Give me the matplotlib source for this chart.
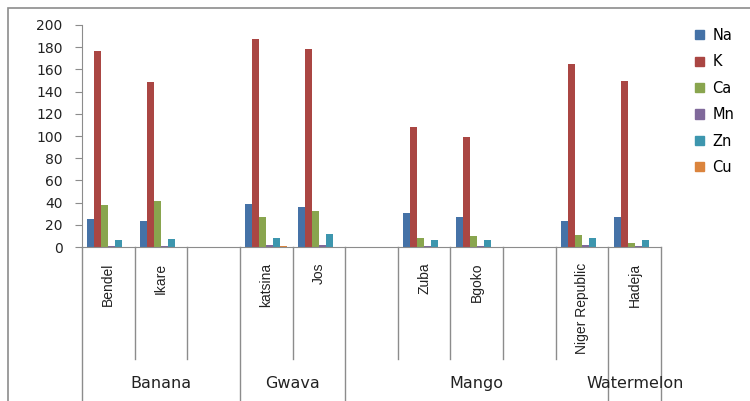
import numpy as np
import matplotlib.pyplot as plt
from matplotlib.patches import Patch, Rectangle

nan = np.nan

# Data
categories = ['Bendel', 'Ikare', '', 'katsina', 'Jos', '', 'Zuba', 'Bgoko', '', 'Niger Republic', 'Hadeja']
Na = [25, 23, nan, 39, 36, nan, 31, 27, nan, 23, 27]
K = [177, 149, nan, 187, 178, nan, 108, 99, nan, 165, 150]
Ca = [38, 41, nan, 27, 32, nan, 8, 10, nan, 10.5, 4]
Mn = [1, 0.5, nan, 1.5, 1.5, nan, 0.5, 0.5, nan, 1.5, 0.5]
Zn = [6, 7, nan, 8.5, 11.5, nan, 6, 6, nan, 8.5, 6]
Cu = [0, 0, nan, 0.7, 0, nan, 0, 0, nan, 0, 0]

groups = ['Banana', 'Gwava', 'Mango', 'Watermelon']
group_start = [0, 3, 5, 10]
group_end = [3, 5, 10, 11]

series = {'Na': Na, 'K': K, 'Ca': Ca, 'Mn': Mn, 'Zn': Zn, 'Cu': Cu}
colors = ['#4572A7', '#AA4643', '#89A54E', '#80699B', '#3D96AE', '#DB843D']

fig = plt.figure(figsize=(7.5, 4.01), dpi=100)
ax = fig.add_axes([82 / 750, 1 - 247 / 401, (661 - 82) / 750, 222 / 401])

# outer chart frame (only top and left edges visible)
fig.patches.append(Rectangle((7.5 / 750, -0.1), 1.2, 1 - 8 / 401 + 0.1, transform=fig.transFigure,
                             fill=False, edgecolor='#8c8c8c', lw=1.2))

x = np.arange(len(categories))
bw = 7 / 52.6
for i, (name, vals) in enumerate(series.items()):
    ax.bar(x + (i - 2.5) * bw, vals, width=bw, color=colors[i], label=name)

ax.set_xlim(-0.5, len(categories) - 0.5)
ax.set_ylim(0, 200)
ax.set_yticks(range(0, 201, 20))
ax.set_xticks([])
for s in ['top', 'right']:
    ax.spines[s].set_visible(False)
for s in ['left', 'bottom']:
    ax.spines[s].set_color('#8c8c8c')
ax.tick_params(axis='y', length=5, color='#8c8c8c', labelsize=10, pad=9, labelcolor='#222222')

# category separators and group separators
tr = ax.get_xaxis_transform()
long_lines = set(group_start + group_end)
for b in range(len(categories) + 1):
    y_end = -0.70 if b in long_lines else -0.505
    ax.plot([b - 0.5, b - 0.5], [0, y_end], color='#8c8c8c', lw=1, transform=tr, clip_on=False)

for i, c in enumerate(categories):
    if c:
        ax.text(i, -0.07, c, rotation=90, ha='center', va='top', transform=tr,
                fontsize=10, family='Liberation Sans', color='#222222')

for g, s, e in zip(groups, group_start, group_end):
    ax.text((s + e - 1) / 2, -0.613, g, ha='center', va='center', transform=tr,
            fontsize=11.5, color='#222222')

handles = [Patch(color=c, label=n) for c, n in zip(colors, series)]
fig.legend(handles=handles, loc='upper left', bbox_to_anchor=(695 / 750, 1 - 28 / 401),
           frameon=False, handlelength=0.6, handleheight=0.6, handletextpad=0.6,
           labelspacing=0.78, fontsize=10.5, borderaxespad=0, borderpad=0)

fig.savefig('out.png', dpi=100)
